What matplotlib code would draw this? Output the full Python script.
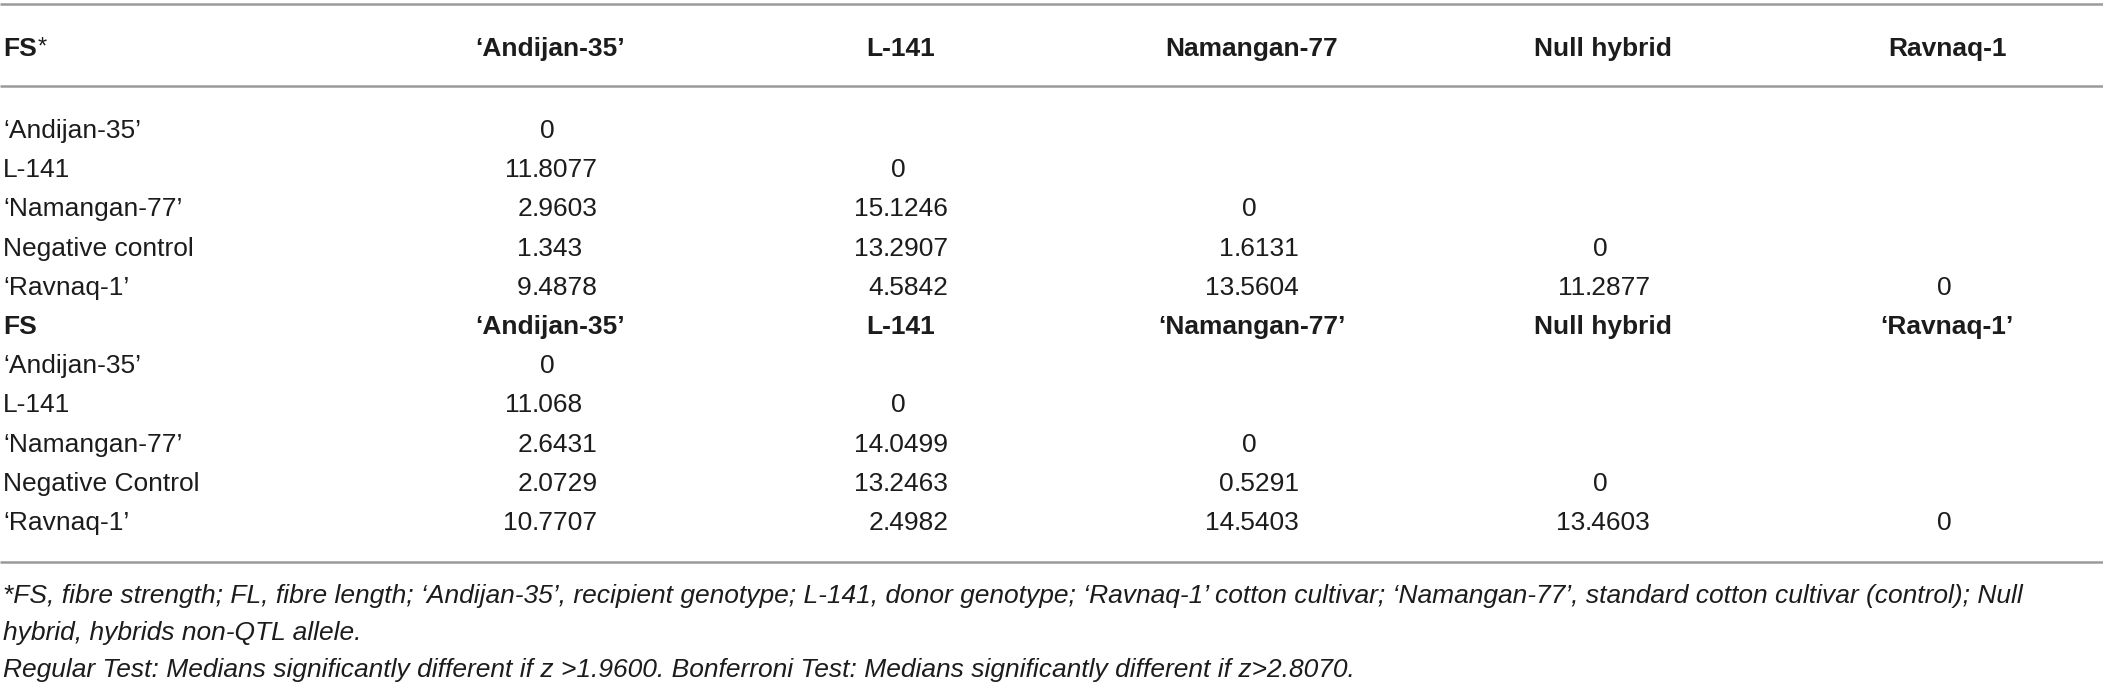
import matplotlib
matplotlib.use("Agg")
import matplotlib.pyplot as plt

# Tabla de comparaciones (z) para FS, dos bloques
col_heads_1 = ["\u2018Andijan-35\u2019", "L-141", "Namangan-77", "Null hybrid", "Ravnaq-1"]
col_heads_2 = ["\u2018Andijan-35\u2019", "L-141", "\u2018Namangan-77\u2019", "Null hybrid", "\u2018Ravnaq-1\u2019"]

rows_1 = ["\u2018Andijan-35\u2019", "L-141", "\u2018Namangan-77\u2019", "Negative control", "\u2018Ravnaq-1\u2019"]
rows_2 = ["\u2018Andijan-35\u2019", "L-141", "\u2018Namangan-77\u2019", "Negative Control", "\u2018Ravnaq-1\u2019"]

vals_1 = [
    ["0"],
    ["11.8077", "0"],
    ["2.9603", "15.1246", "0"],
    ["1.343", "13.2907", "1.6131", "0"],
    ["9.4878", "4.5842", "13.5604", "11.2877", "0"],
]
vals_2 = [
    ["0"],
    ["11.068", "0"],
    ["2.6431", "14.0499", "0"],
    ["2.0729", "13.2463", "0.5291", "0"],
    ["10.7707", "2.4982", "14.5403", "13.4603", "0"],
]

notas = [
    "*FS, fibre strength; FL, fibre length; \u2018Andijan-35\u2019, recipient genotype; L-141, donor genotype; "
    "\u2018Ravnaq-1\u2019 cotton cultivar; \u2018Namangan-77\u2019, standard cotton cultivar (control); Null",
    "hybrid, hybrids non-QTL allele.",
    "Regular Test: Medians significantly different if z >1.9600. Bonferroni Test: Medians significantly different if z>2.8070.",
]

W, H = 2103, 688
plt.rcParams['font.family'] = ['Liberation Sans', 'DejaVu Sans']
fs = 19
gris = "#9a9a9a"
negro = "#1c1c1c"

fig = plt.figure(figsize=(W / 100, H / 100), dpi=100)
ax = fig.add_axes([0, 0, 1, 1])
ax.set_xlim(0, W)
ax.set_ylim(H, 0)
ax.axis("off")

x_lab = 3
x_dec = [532, 883, 1234, 1585, 1929]   # posición del punto decimal por columna
x_head = [d + 18 for d in x_dec]
y_head = 56
y_row0 = 138
paso = 39.2


def numero(x, y, s):
    if "." in s:
        ent, dec = s.split(".")
        ax.text(x, y, ent, ha="right", va="baseline", fontsize=fs, color=negro)
        ax.text(x, y, "." + dec, ha="left", va="baseline", fontsize=fs, color=negro)
    else:
        ax.text(x + 15, y, s, ha="center", va="baseline", fontsize=fs, color=negro)


# reglas horizontales
for yy in [4, 86, 562]:
    ax.plot([0, W], [yy, yy], color=gris, lw=1.8, solid_capstyle="butt")

# encabezado
t = ax.text(x_lab, y_head, "FS", ha="left", va="baseline", fontsize=fs, fontweight="bold", color=negro)
fig.canvas.draw()
bb = t.get_window_extent().transformed(ax.transData.inverted())
ax.text(bb.x1 + 1, y_head - 2, "*", ha="left", va="baseline", fontsize=fs - 2, color=negro)
for x, h in zip(x_head, col_heads_1):
    ax.text(x, y_head, h, ha="center", va="baseline", fontsize=fs, fontweight="bold", color=negro)

# primer bloque
for i, (lab, fila) in enumerate(zip(rows_1, vals_1)):
    y = y_row0 + paso * i
    ax.text(x_lab, y, lab, ha="left", va="baseline", fontsize=fs, color=negro)
    for j, v in enumerate(fila):
        numero(x_dec[j], y, v)

# segundo encabezado
y = y_row0 + paso * 5
ax.text(x_lab, y, "FS", ha="left", va="baseline", fontsize=fs, fontweight="bold", color=negro)
for x, h in zip(x_head, col_heads_2):
    ax.text(x, y, h, ha="center", va="baseline", fontsize=fs, fontweight="bold", color=negro)

# segundo bloque
for i, (lab, fila) in enumerate(zip(rows_2, vals_2)):
    y = y_row0 + paso * (6 + i)
    ax.text(x_lab, y, lab, ha="left", va="baseline", fontsize=fs, color=negro)
    for j, v in enumerate(fila):
        numero(x_dec[j], y, v)

# notas al pie
for k, nota in enumerate(notas):
    ax.text(x_lab, 603 + 37 * k, nota, ha="left", va="baseline", fontsize=fs,
            style="italic", color=negro)

fig.savefig("out.png", dpi=100)
